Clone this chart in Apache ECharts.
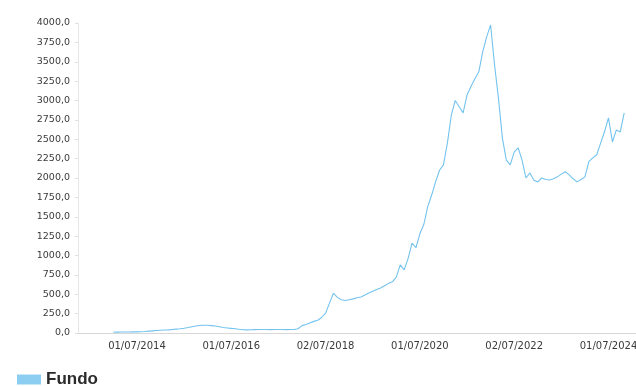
<!DOCTYPE html>
<html>
<head>
<meta charset="utf-8">
<script src="https://cdn.jsdelivr.net/npm/echarts@6/dist/echarts.min.js"></script>
<style>
html,body{margin:0;padding:0;background:#fff;}
#chart{width:636px;height:386px;}
</style>
</head>
<body>
<div id="chart"></div>
<script>
// eixo: de abr/2013 a fev/2025, um ponto por mes
var startYear = 2013, startMonth = 4, monthCount = 143;
// primeiro valor em jan/2014
var dataStart = '01/2014';

var fundo2014 = [10, 11, 12, 12, 13, 14, 15, 17, 20, 24, 28, 32];
var fundo2015 = [35, 38, 40, 45, 50, 55, 62, 70, 80, 90, 96, 100];
var fundo2016 = [100, 95, 90, 80, 70, 65, 60, 55, 48, 42, 40, 42];
var fundo2017 = [44, 45, 45, 46, 44, 45, 46, 45, 44, 45, 46, 55];
var fundo2018 = [95, 110, 130, 150, 165, 200, 255, 385, 515, 460, 430, 420];
var fundo2019 = [430, 440, 455, 465, 490, 515, 540, 560, 580, 610, 640, 660];
var fundo2020 = [720, 880, 815, 960, 1160, 1100, 1280, 1400, 1630, 1780, 1950, 2100];
var fundo2021 = [2170, 2450, 2810, 3000, 2920, 2840, 3070, 3180, 3280, 3370, 3630, 3820];
var fundo2022 = [3975, 3460, 3030, 2515, 2230, 2170, 2335, 2390, 2230, 2000, 2065, 1970];
var fundo2023 = [1950, 2000, 1980, 1975, 1990, 2015, 2050, 2080, 2040, 1990, 1950, 1980];
var fundo2024 = [2015, 2210, 2260, 2300, 2450, 2600, 2775, 2465, 2620, 2595, 2840];

var tickLabels = ['01/07/2014', '01/07/2016', '02/07/2018', '01/07/2020', '02/07/2022', '01/07/2024'];

var months = [];
for (var i = 0; i < monthCount; i++) {
	var m = (startMonth - 1 + i) % 12 + 1;
	var y = startYear + Math.floor((startMonth - 1 + i) / 12);
	months.push((m < 10 ? '0' + m : '' + m) + '/' + y);
}

var fundo = [].concat(fundo2014, fundo2015, fundo2016, fundo2017, fundo2018, fundo2019,
	fundo2020, fundo2021, fundo2022, fundo2023, fundo2024);
var seriesData = [];
var offset = months.indexOf(dataStart);
for (var i = 0; i < months.length; i++) {
	var v = fundo[i - offset];
	seriesData.push(v === undefined ? null : v);
}

function labelFor(cat) {
	for (var i = 0; i < tickLabels.length; i++) {
		if (tickLabels[i].substring(3) === cat) return tickLabels[i];
	}
	return null;
}

var chart = echarts.init(document.getElementById('chart'));
var option = {
	animation: false,
	backgroundColor: '#fff',
	grid: {
		left: 78,
		right: 0,
		top: 23,
		bottom: 53,
		containLabel: false,
		outerBoundsMode: 'none'
	},
	legend: {
		data: ['Fundo'],
		left: 12,
		top: 366,
		icon: 'rect',
		itemWidth: 24,
		itemHeight: 10,
		itemGap: 12,
		textStyle: {color: '#2b2b2b', fontSize: 17, fontWeight: 'bold', fontFamily: 'Liberation Sans'},
		itemStyle: {color: '#8ccdf2'}
	},
	xAxis: {
		type: 'category',
		data: months,
		boundaryGap: false,
		axisLine: {lineStyle: {color: '#d8d8d8'}},
		axisTick: {show: false},
		axisLabel: {
			interval: function (idx, val) { return labelFor(val) !== null; },
			formatter: function (val) { return labelFor(val) || ''; },
			color: '#3a3a3a',
			fontSize: 10,
			fontFamily: 'DejaVu Sans',
			margin: 8
		},
		splitLine: {show: false}
	},
	yAxis: {
		type: 'value',
		min: 0,
		max: 4000,
		interval: 250,
		axisLine: {show: true, lineStyle: {color: '#e6e6e6'}},
		axisTick: {show: true, length: 3, lineStyle: {color: '#e0e0e0'}},
		axisLabel: {
			formatter: function (v) { return v.toFixed(1).replace('.', ','); },
			color: '#3a3a3a',
			fontSize: 9.5,
			fontFamily: 'DejaVu Sans',
			margin: 8
		},
		splitLine: {show: false}
	},
	series: [{
		name: 'Fundo',
		type: 'line',
		data: seriesData,
		showSymbol: false,
		symbol: 'none',
		smooth: false,
		connectNulls: false,
		lineStyle: {color: '#74c3ee', width: 1.1},
		itemStyle: {color: '#74c3ee'}
	}]
};
chart.setOption(option);
</script>
</body>
</html>
